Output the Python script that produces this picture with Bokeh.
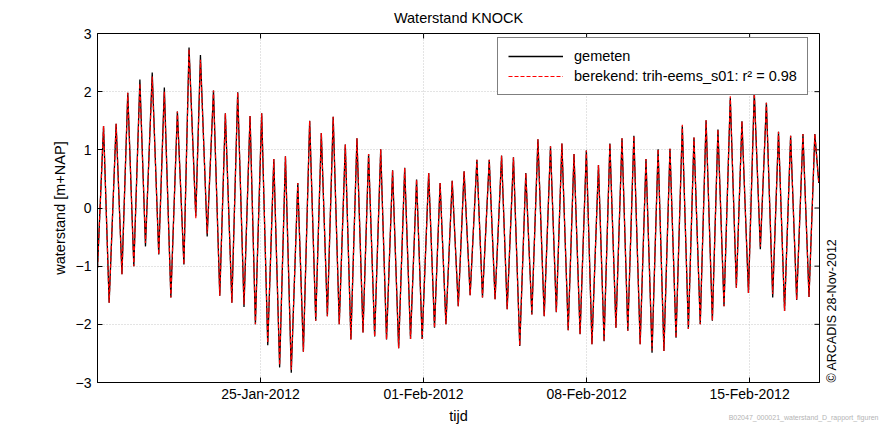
import math
import pandas as pd
from bokeh.plotting import figure
from bokeh.models import (FixedTicker, DatetimeTickFormatter, LinearAxis, Title,
                          Legend, LegendItem, Range1d, ColumnDataSource)
from bokeh.embed import file_html
from bokeh.resources import INLINE

# ---------------- data ----------------
start_time = "2012-01-18 00:00"
end_time = "2012-02-18 00:00"

# time of each turning point, in days after start_time
tide_days = [0.00, 0.26, 0.50, 0.80, 1.05, 1.30, 1.56, 1.82, 2.06, 2.35, 2.63, 2.87, 3.15,
             3.43, 3.71, 3.93, 4.22, 4.42, 4.71, 4.98, 5.25, 5.49, 5.77, 6.02, 6.29, 6.55,
             6.78, 7.05, 7.31, 7.57, 7.82, 8.07, 8.32, 8.60, 8.84, 9.11, 9.37, 9.61, 9.87,
             10.12, 10.38, 10.64, 10.88, 11.14, 11.40, 11.64, 11.90, 12.16, 12.41, 12.67,
             12.93, 13.19, 13.44, 13.70, 13.94, 14.22, 14.47, 14.71, 14.96, 15.23, 15.49,
             15.74, 16.00, 16.29, 16.53, 16.82, 17.07, 17.35, 17.59, 17.86, 18.13, 18.39,
             18.65, 18.91, 19.18, 19.45, 19.70, 19.94, 20.21, 20.46, 20.72, 20.99, 21.23,
             21.51, 21.75, 22.00, 22.26, 22.52, 22.77, 23.03, 23.30, 23.55, 23.81, 24.07,
             24.32, 24.58, 24.84, 25.11, 25.37, 25.61, 25.88, 26.13, 26.40, 26.64, 26.90,
             27.17, 27.43, 27.67, 27.95, 28.20, 28.46, 28.72, 28.99, 29.24, 29.50, 29.76,
             30.02, 30.29, 30.55, 30.80, 30.97]

gemeten = [-1.03, 1.41, -1.63, 1.45, -1.14, 1.98, -1.00, 2.21, -0.66, 2.33, -0.80, 2.07, -1.54,
           1.66, -0.97, 2.76, -0.14, 2.63, -0.49, 2.02, -1.51, 1.63, -1.63, 1.99, -1.70, 1.58,
           -2.00, 1.63, -2.36, 0.84, -2.74, 0.89, -2.83, 0.43, -2.47, 1.50, -1.94, 1.29, -1.86,
           1.57, -2.00, 1.09, -2.26, 1.20, -2.14, 0.93, -2.21, 1.01, -2.26, 0.65, -2.41, 0.69,
           -2.25, 0.49, -2.25, 0.60, -2.06, 0.43, -2.00, 0.47, -1.69, 0.63, -1.50, 0.83, -1.54,
           0.83, -1.57, 0.90, -1.74, 0.87, -2.37, 0.60, -1.83, 1.18, -1.86, 1.06, -1.79, 1.11,
           -2.10, 0.93, -2.17, 0.99, -2.34, 0.74, -2.29, 1.11, -2.06, 1.20, -2.11, 1.24, -2.34,
           0.84, -2.49, 1.01, -2.46, 1.02, -2.23, 1.41, -2.08, 1.21, -2.00, 1.51, -1.94, 1.35,
           -1.69, 1.89, -1.37, 1.49, -1.46, 2.00, -0.71, 1.81, -1.54, 1.31, -1.77, 1.24, -1.58,
           1.27, -1.53, 1.27, 0.43]

berekend = [-1.03, 1.41, -1.63, 1.45, -1.14, 1.98, -1.00, 2.14, -0.60, 2.26, -0.80, 2.00, -1.54,
            1.66, -0.97, 2.73, -0.18, 2.55, -0.44, 2.02, -1.51, 1.63, -1.63, 1.99, -1.66, 1.58,
            -2.00, 1.63, -2.32, 0.84, -2.70, 0.89, -2.78, 0.43, -2.47, 1.50, -1.94, 1.29, -1.86,
            1.57, -2.00, 1.09, -2.26, 1.20, -2.14, 0.93, -2.21, 1.01, -2.26, 0.65, -2.41, 0.69,
            -2.25, 0.49, -2.25, 0.60, -2.06, 0.43, -2.00, 0.47, -1.69, 0.63, -1.50, 0.83, -1.54,
            0.83, -1.57, 0.90, -1.74, 0.87, -2.37, 0.60, -1.83, 1.18, -1.86, 1.06, -1.79, 1.11,
            -2.10, 0.93, -2.17, 0.99, -2.34, 0.74, -2.29, 1.11, -2.06, 1.20, -2.11, 1.24, -2.34,
            0.84, -2.45, 1.01, -2.46, 1.02, -2.23, 1.43, -2.08, 1.21, -2.00, 1.51, -1.94, 1.35,
            -1.69, 1.92, -1.37, 1.49, -1.46, 1.97, -0.66, 1.81, -1.48, 1.31, -1.77, 1.24, -1.58,
            1.27, -1.53, 1.27, 0.43]

x_tick_dates = ["2012-01-25", "2012-02-01", "2012-02-08", "2012-02-15"]
y_ticks = [-3, -2, -1, 0, 1, 2, 3]

title_text = "Waterstand KNOCK"
x_label = "tijd"
y_label = "waterstand [m+NAP]"
label_gemeten = "gemeten"
label_berekend = "berekend: trih-eems_s01: r\u00b2 = 0.98"
copyright_text = "\u00a9 ARCADIS 28-Nov-2012"
footer_text = "B02047_000021_waterstand_D_rapport_figuren"

assert len(tide_days) == len(gemeten) == len(berekend)

# ---------------- build ----------------
FONT = "Liberation Sans"
t0 = pd.Timestamp(start_time)
t_end = pd.Timestamp(end_time)
times = [t0 + pd.Timedelta(days=d) for d in tide_days]
src = ColumnDataSource(dict(t=times, gem=gemeten, ber=berekend))

x_tick_ts = [pd.Timestamp(d) for d in x_tick_dates]
x_ticks_ms = [ts.value / 1e6 for ts in x_tick_ts]

p = figure(width=886, height=429, x_axis_type="datetime",
           x_range=Range1d(t0, t_end), y_range=Range1d(y_ticks[0], y_ticks[-1]),
           output_backend="svg", toolbar_location=None,
           min_border_left=97, min_border_right=67, min_border_top=32, min_border_bottom=47)
p.background_fill_color = "white"
p.border_fill_color = "white"
p.outline_line_color = "black"
p.outline_line_width = 1

# title
p.title.text = title_text
p.title.align = "center"
p.title.text_font = FONT
p.title.text_font_size = "14.5px"
p.title.text_font_style = "normal"
p.title.text_color = "black"
p.title.standoff = 15

fmt = DatetimeTickFormatter(days="%d-%b-%Y", months="%d-%b-%Y", hours="%d-%b-%Y",
                            years="%d-%b-%Y")

xa = p.xaxis[0]
xa.ticker = FixedTicker(ticks=x_ticks_ms)
xa.formatter = fmt
ya = p.yaxis[0]
ya.ticker = FixedTicker(ticks=y_ticks)

for ax in (xa, ya):
    ax.major_tick_in = 5
    ax.major_tick_out = 0
    ax.minor_tick_line_color = None
    ax.axis_line_color = "black"
    ax.major_tick_line_color = "black"
    ax.major_label_text_font = FONT
    ax.major_label_text_font_size = "14px"
    ax.major_label_text_color = "black"
    ax.axis_label_text_font = FONT
    ax.axis_label_text_font_size = "14.5px"
    ax.axis_label_text_font_style = "normal"
    ax.axis_label_text_color = "black"

xa.axis_label = x_label
xa.major_label_standoff = 3
xa.axis_label_standoff = 3
ya.axis_label = y_label
ya.major_label_standoff = 6
ya.axis_label_standoff = 5

# right side: axis without ticks that carries the copyright text
right_ax = LinearAxis(ticker=FixedTicker(ticks=[]), axis_label=copyright_text,
                      axis_line_color=None, major_tick_line_color=None,
                      minor_tick_line_color=None, major_tick_in=0, major_tick_out=0,
                      axis_label_standoff=12, axis_label_text_font=FONT,
                      axis_label_text_font_size="12.5px", axis_label_text_font_style="normal",
                      axis_label_text_color="black")
props = LinearAxis.properties()
if "axis_label_orientation" in props:
    right_ax.axis_label_orientation = math.pi / 2
if "axis_label_align" in props:
    right_ax.axis_label_align = "start"
p.add_layout(right_ax, "right")

# footer beside the tijd label (panel given no height so the plot box keeps its size)
footer = Title(text=footer_text, align="right", offset=-59, vertical_align="top",
               text_font=FONT, text_font_size="7px", text_font_style="normal",
               text_color="#b4b4b4")
try:
    footer.standoff = -25
except Exception:
    footer.standoff = 0
p.add_layout(footer, "below")

# grid
p.xgrid[0].ticker = FixedTicker(ticks=x_ticks_ms)
p.ygrid[0].ticker = FixedTicker(ticks=y_ticks)
for g in (p.xgrid[0], p.ygrid[0]):
    g.grid_line_color = "#c8c8c8"
    g.grid_line_dash = "1 2"
    g.grid_line_width = 1

# inward ticks on the top and right edges of the box
p.scatter(x=x_tick_ts, y=[y_ticks[-1]] * len(x_tick_ts), marker="dash", size=10,
          angle=math.pi / 2, line_color="black", line_width=1)
p.scatter(x=[t_end] * len(y_ticks), y=y_ticks, marker="dash", size=10,
          line_color="black", line_width=1)

r_gem = p.line("t", "gem", source=src, line_color="black", line_width=1.3)
r_ber = p.line("t", "ber", source=src, line_color="#ff0000", line_width=1.2,
               line_dash="4 2")

legend = Legend(items=[LegendItem(label=label_gemeten, renderers=[r_gem]),
                       LegendItem(label=label_berekend, renderers=[r_ber])],
                location=(400, 287))
legend.border_line_color = "black"
legend.border_line_width = 1
legend.background_fill_color = "white"
legend.background_fill_alpha = 1
legend.label_text_font = FONT
legend.label_text_font_size = "14.5px"
legend.label_text_color = "black"
legend.glyph_width = 55
legend.glyph_height = 16
legend.label_height = 16
legend.label_standoff = 11
legend.padding = 10
legend.spacing = 4
legend.margin = 0
p.add_layout(legend)

open("out.html", "w").write(file_html(p, INLINE))
